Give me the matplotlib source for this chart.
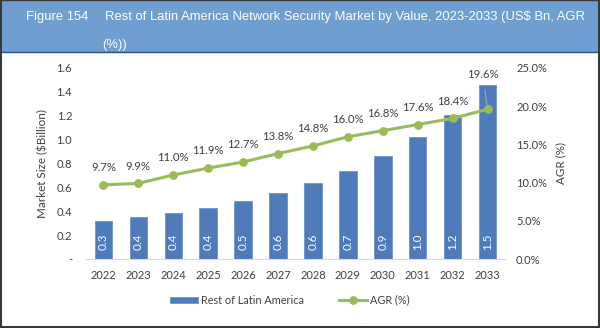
import matplotlib
matplotlib.use("Agg")
import matplotlib.pyplot as plt
from matplotlib.patches import Rectangle
from matplotlib.lines import Line2D
import numpy as np

years = ['2022', '2023', '2024', '2025', '2026', '2027', '2028', '2029', '2030', '2031', '2032', '2033']
market_size = [0.315, 0.355, 0.385, 0.43, 0.49, 0.555, 0.64, 0.74, 0.865, 1.02, 1.21, 1.46]
agr = [9.7, 9.9, 11.0, 11.9, 12.7, 13.8, 14.8, 16.0, 16.8, 17.6, 18.4, 19.6]

bar_color = '#4f7bbb'
line_color = '#9bbb59'
text_color = '#404040'
chart_font = ['Lato', 'DejaVu Sans']

fig = plt.figure(figsize=(6.0, 3.28), dpi=100)
fig.patch.set_facecolor('white')

# header band with title
fig.patches.append(Rectangle((0, 1 - 52 / 328), 1, 52 / 328, transform=fig.transFigure,
                             facecolor='#6f9fd1', edgecolor='none', zorder=0))
fig.add_artist(Line2D([0, 1], [1 - 52 / 328, 1 - 52 / 328], transform=fig.transFigure,
                      color='#2f4f7f', lw=1.0))
fig.add_artist(Line2D([0, 1], [0.999, 0.999], transform=fig.transFigure, color='#3a3a3a', lw=1.0))
# outer border
fig.add_artist(Line2D([0.001, 0.001], [0, 1], transform=fig.transFigure, color='#3a3a3a', lw=1.5))
fig.add_artist(Line2D([0.998, 0.998], [0, 1], transform=fig.transFigure, color='#3a3a3a', lw=1.5))
fig.add_artist(Line2D([0, 1], [0.004, 0.004], transform=fig.transFigure, color='#3a3a3a', lw=1.5))

title_kw = dict(color='white', fontsize=9.4, family='Liberation Sans', va='center', ha='left')
fig.text(26 / 600, 1 - 17 / 328, 'Figure 154', **title_kw)
fig.text(105 / 600, 1 - 17 / 328,
         'Rest of Latin America Network Security Market by Value, 2023-2033 (US$ Bn, AGR',
         **title_kw)
fig.text(102 / 600, 1 - 45 / 328, '(%))', **title_kw)

ax = fig.add_axes([86 / 600, 1 - 259 / 328, 419 / 600, 191 / 328])
ax2 = ax.twinx()
ax.set_zorder(1)
ax2.set_zorder(2)
ax.patch.set_visible(False)

x = np.arange(len(years))
bars = ax.bar(x, market_size, width=0.5, color=bar_color, edgecolor='#6d95cc', linewidth=0.6,
              label='Rest of Latin America')
for xi, v in zip(x, market_size):
    ax.text(xi, 0.145, f'{v:.1f}', rotation=90, color='white', ha='center', va='center',
            fontsize=8.5, family=chart_font)

ax.set_xlim(-0.5, len(years) - 0.5)
ax.set_ylim(0, 1.6)
ax.set_yticks(np.arange(0, 1.61, 0.2))
ax.set_yticklabels(['-'] + [f'{t:.1f}' for t in np.arange(0.2, 1.61, 0.2)])
ax.set_xticks(x)
ax.set_xticklabels(years)
ax.tick_params(axis='both', length=0, labelsize=8, labelcolor=text_color)
ax.tick_params(axis='y', pad=10)
ax.tick_params(axis='x', pad=8)
for lab in ax.get_xticklabels() + ax.get_yticklabels():
    lab.set_family(chart_font)
for s in ['top', 'left', 'right']:
    ax.spines[s].set_visible(False)
ax.spines['bottom'].set_color('#d9d9d9')
ax.set_ylabel('Market Size ($Billion)', fontsize=8.4, color=text_color, family=chart_font,
              labelpad=6)

line, = ax2.plot(x, agr, color=line_color, lw=2.2, marker='o', markersize=5.3,
                 label='AGR (%)')
ax2.set_ylim(0, 25)
ax2.set_yticks(np.arange(0, 25.1, 5))
ax2.set_yticklabels([f'{t:.1f}%' for t in np.arange(0, 25.1, 5)])
ax2.tick_params(axis='y', length=0, labelsize=8, labelcolor=text_color, pad=8)
for lab in ax2.get_yticklabels():
    lab.set_family(chart_font)
for s in ax2.spines.values():
    s.set_visible(False)
ax2.set_ylabel('AGR (%)', fontsize=8.4, color=text_color, family=chart_font, labelpad=6)

for i, v in enumerate(agr):
    if i == len(agr) - 1:
        ax2.annotate(f'{v:.1f}%', (x[i], v), xytext=(-3.5, 25), textcoords='offset points',
                     ha='center', va='center', fontsize=8.2, color=text_color, family=chart_font,
                     arrowprops=dict(arrowstyle='-', color='#a6a6a6', lw=0.8,
                                     shrinkA=5, shrinkB=0))
    else:
        ax2.annotate(f'{v:.1f}%', (x[i], v), xytext=(0, 12.5), textcoords='offset points',
                     ha='center', va='center', fontsize=8.2, color=text_color, family=chart_font)

fig.legend(handles=[bars, line], labels=['Rest of Latin America', 'AGR (%)'],
           loc='center', bbox_to_anchor=(290 / 600, 1 - 300 / 328), ncol=2, frameon=False,
           prop={'family': chart_font, 'size': 7.8}, labelcolor=text_color,
           handlelength=2.6, handleheight=0.5, columnspacing=3.2, handletextpad=0.3)

fig.savefig('out.png', dpi=100, facecolor='white')
